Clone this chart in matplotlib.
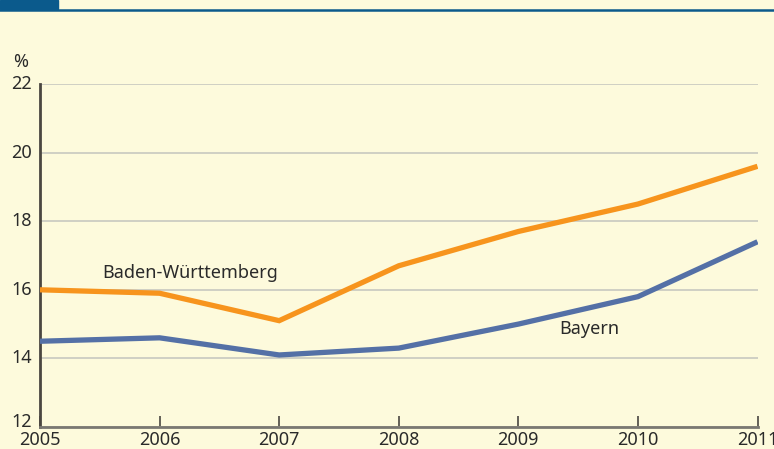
import matplotlib
matplotlib.use('Agg')
import matplotlib.pyplot as plt

matplotlib.rcParams['font.family'] = 'Noto Sans'
matplotlib.rcParams['font.size'] = 13

years = [2005, 2006, 2007, 2008, 2009, 2010, 2011]
bw = [16.0, 15.9, 15.1, 16.7, 17.7, 18.5, 19.6]
bayern = [14.5, 14.6, 14.1, 14.3, 15.0, 15.8, 17.4]
yticks = [12, 14, 16, 18, 20, 22]

bg = '#FDFADC'
fig = plt.figure(figsize=(7.74, 4.49), dpi=100, facecolor=bg)
ax = fig.add_axes([40/774, 1 - 427/449, (757.5 - 40)/774, (427 - 84)/449])
ax.set_facecolor(bg)

# header band
fig.patches.append(plt.Rectangle((0, 1 - 9/449), 58/774, 9/449, transform=fig.transFigure,
                                 color='#0B5A8C', zorder=0))
fig.lines.append(plt.Line2D([0, 1], [1 - 10/449, 1 - 10/449], transform=fig.transFigure,
                            color='#0B5A8C', lw=1.8))

ax.plot(years, bw, color='#F7941D', lw=3.8, solid_capstyle='butt', solid_joinstyle='miter', zorder=3)
ax.plot(years, bayern, color='#5470A6', lw=3.8, solid_capstyle='butt', solid_joinstyle='miter', zorder=3)

ax.set_xlim(2005, 2011)
ax.set_ylim(12, 22)
ax.set_yticks(yticks)
ax.set_xticks(years)
ax.grid(axis='y', color='#C8C8C0', lw=1.2)
ax.set_axisbelow(True)

for s in ['top', 'right']:
    ax.spines[s].set_visible(False)
ax.spines['left'].set_color('#4A4640')
ax.spines['left'].set_linewidth(2)
ax.spines['bottom'].set_color('#7A7872')
ax.spines['bottom'].set_linewidth(2)

ax.tick_params(axis='y', length=0, pad=6, labelcolor='#2A2A2A')
ax.tick_params(axis='x', direction='in', length=8, width=1.2, color='#4A4640', pad=3, labelcolor='#2A2A2A')
for lab in ax.get_yticklabels():
    lab.set_verticalalignment('center')
ax.get_yticklabels()[0].set_verticalalignment('baseline')

ax.text(2005.52, 16.5, 'Baden-Württemberg', color='#2A2A2A', ha='left', va='center')
ax.text(2009.34, 14.85, 'Bayern', color='#2A2A2A', ha='left', va='center')
fig.text(13/774, 1 - 62/449, '%', color='#2A2A2A', ha='left', va='center')

fig.savefig('out.png', dpi=100, facecolor=bg)
